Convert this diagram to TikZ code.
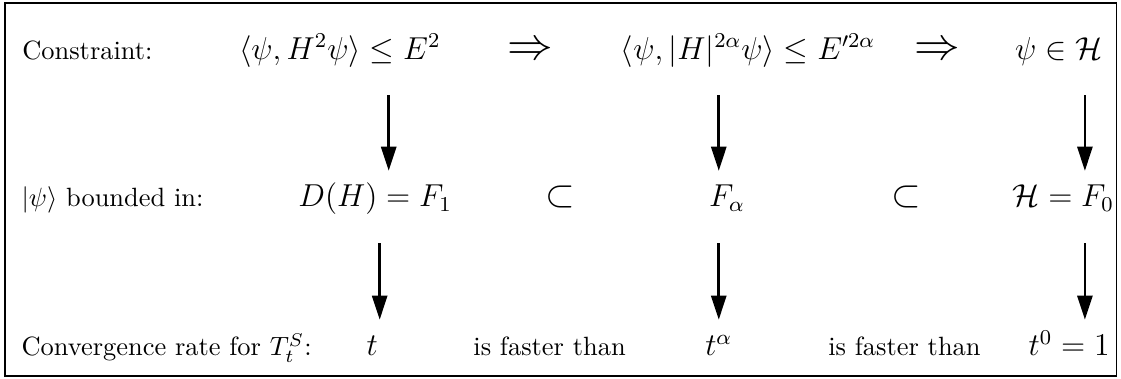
\documentclass[tikz,border=0pt]{standalone}
\usepackage{amsmath}
\usetikzlibrary{arrows.meta}
\tikzset{
  rowlabel/.style={anchor=base west, inner sep=0pt},
  mathitem/.style={anchor=base, font=\large, text height=10pt, text depth=10pt,
    inner xsep=0pt, inner ysep=3.5pt},
  relitem/.style={mathitem, font=\Large},
  wordsitem/.style={anchor=base, inner sep=0pt},
  flowarrow/.style={-{Triangle[length=3.2mm, width=2mm]}, line width=1pt}
}

\begin{document}
\begin{tikzpicture}
    \useasboundingbox (0,0) rectangle (14.91,5.04);
    \draw[line width=0.7pt] (0.066,0.04) rectangle (14.85,5.0);
    % constraint row
    \node[rowlabel] (conlabel) at (0.29,4.255) {Constraint:};
    \node[mathitem] (conone) at (4.52,4.255) {$\langle\psi, H^2\psi\rangle \le E^2$};
    \node[relitem, font=\LARGE] (impone) at (7.06,4.255) {$\Rightarrow$};
    \node[mathitem] (context) at (9.95,4.255) {$\langle\psi, |H|^{2\alpha}\psi\rangle \le E'^{2\alpha}$};
    \node[relitem, font=\LARGE] (imptwo) at (12.47,4.255) {$\Rightarrow$};
    \node[mathitem] (conhil) at (14.08,4.255) {$\psi \in \mathcal{H}$};
    % bounded row
    \node[rowlabel] (boundlabel) at (0.28,2.287) {$|\psi\rangle$ bounded in:};
    \node[mathitem] (domone) at (4.99,2.287) {$D(H) = F_1$};
    \node[relitem] (subone) at (7.45,2.287) {$\subset$};
    \node[mathitem] (domalpha) at (9.67,2.287) {$F_\alpha$};
    \node[relitem] (subtwo) at (12.06,2.287) {$\subset$};
    \node[mathitem] (domhil) at (14.14,2.287) {$\mathcal{H} = F_0$};
    % rate row
    \node[rowlabel] (ratelabel) at (0.28,0.306) {Convergence rate for $T_t^S$:};
    \node[mathitem] (rateone) at (4.95,0.306) {$t$};
    \node[wordsitem] (fasterone) at (7.31,0.306) {is faster than};
    \node[mathitem] (ratealpha) at (9.56,0.306) {$t^\alpha$};
    \node[wordsitem] (fastertwo) at (12.03,0.306) {is faster than};
    \node[mathitem] (ratezero) at (14.22,0.306) {$t^0 = 1$};
    % arrow columns
    \coordinate (colA) at (5.17,0);
    \coordinate (colAlow) at (5.05,0);
    \coordinate (colB) at (9.56,0);
    \coordinate (colC) at (14.43,0);
    \draw[flowarrow] (conone.south -| colA) -- (domone.north -| colA);
    \draw[flowarrow] (context.south -| colB) -- (domalpha.north -| colB);
    \draw[flowarrow] (conhil.south -| colC) -- (domhil.north -| colC);
    \draw[flowarrow] (domone.south -| colAlow) -- (rateone.north -| colAlow);
    \draw[flowarrow] (domalpha.south -| colB) -- (ratealpha.north -| colB);
    \draw[flowarrow] (domhil.south -| colC) -- (ratezero.north -| colC);
\end{tikzpicture}
\end{document}
